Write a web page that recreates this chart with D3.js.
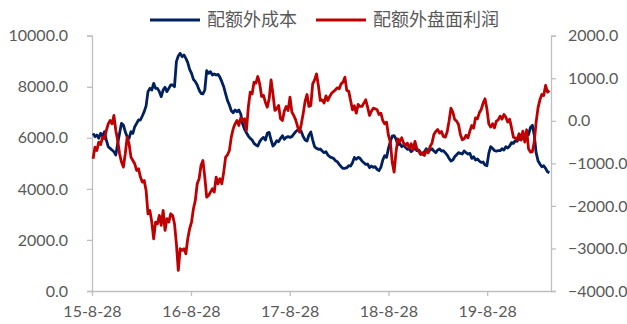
<!DOCTYPE html>
<html>
<head>
<meta charset="utf-8">
<script src="https://cdn.jsdelivr.net/npm/d3@7"></script>
<style>
  html, body { margin: 0; padding: 0; background: #fff; }
  svg { display: block; }
  text { font-family: Lato, "Noto Sans CJK SC", sans-serif; fill: #595959; }
</style>
</head>
<body>
<svg id="chart" width="627" height="324"></svg>
<script>
// ---------------- data ----------------
const seriesNames = ["配额外成本", "配额外盘面利润"];
// weekly readings, first one on firstDate
const firstDate = "2015-09-01";
const stepDays = 7;
// 配额外成本 (left axis)
const costValues = [
  6175, 6045, 6110, 5979, 6175, 6070, 6240, 5914, 5653, 5587,
  5522, 5457, 5326, 5783, 6175, 6567, 6502, 6240, 6045, 5979,
  6240, 6175, 6436, 6567, 6698, 6698, 6855, 7024, 7250, 7808,
  7938, 7873, 8134, 7938, 7938, 7808, 7612, 7873, 7978, 7808,
  7938, 8069, 8069, 8004, 8983, 9205, 9310, 9179, 9244,
  9114, 8944, 8683, 8526, 8291, 8200, 8069, 7873, 7743, 7717,
  7873, 8631, 8526, 8591, 8461, 8500, 8461, 8487, 8369, 8200,
  8004, 7717, 7455, 7285, 7063, 6985, 7089, 7024, 7089, 6933,
  6541, 6332, 6201, 6070, 5979, 5914, 5783, 5718, 5679, 5849,
  5953, 6018, 5914, 6175, 6214, 5914, 5679, 5757, 5888, 5849,
  5979, 6083, 5940, 6018, 6045, 6018, 6045, 6149, 6240, 6306,
  6332, 6240, 6045, 5914, 5875, 6110, 6227, 5914, 5653, 5587,
  5548, 5561, 5483, 5418, 5457, 5326, 5261, 5222, 5196, 5104,
  5065, 4961, 4869, 4804, 4804, 4830, 4908, 4895, 5026, 5235,
  5157, 5235, 5196, 5091, 5026, 4961, 4974, 4830, 4895,
  4843, 4869, 4765, 4713, 4843, 5130, 5300, 5235, 5587, 5849,
  6070, 6083, 5953, 5718, 5783, 5653, 5705, 5627, 5548, 5574,
  5457, 5522, 5627, 5496, 5522, 5418, 5352, 5457, 5574, 5457,
  5522, 5574, 5483, 5418, 5522, 5561, 5483, 5496, 5418, 5326,
  5196, 5091, 5130, 5261, 5339, 5418, 5392, 5365, 5483,
  5418, 5365, 5392, 5196, 5261, 5130, 5170, 5091, 5039, 5052,
  4935, 4908, 5392, 5653, 5587, 5496, 5483, 5496, 5496, 5574,
  5522, 5653, 5600, 5679, 5809, 5783, 5888, 5862, 5979, 5914,
  6045, 6110, 6201, 6123, 6410, 6489, 6110, 5418, 5104, 4974,
  4869, 4908, 4804, 4673, 4634
];
// 配额外盘面利润 (right axis)
const profitValues = [
  -893, -619, -697, -501, -560, -384, -423, -227, -71, 7,
  -71, 125, -227, -462, -775, -971, -1088, -775, -384, -540,
  -854, -932, -1010, -1167, -1128, -1323, -1441, -1402, -1637, -2185,
  -2106, -2380, -2772, -2380, -2420, -2224, -2459, -2106, -2576, -2302,
  -2380, -2185, -2224, -2420, -2889, -3516, -3007, -3046, -3007,
  -3124, -2772, -2537, -2380, -2067, -1871, -1480, -1362, -1049, -932,
  -1323, -1793, -1754, -1676, -1597, -1676, -1323, -1480, -1362, -1480,
  -1206, -854, -799, -697, -384, -188, -71, 7, -110, 70,
  7, 47, -227, 321, 673, 634, 908, 885, 1041, 869,
  572, 595, 438, 321, 517, 963, 634, 243, 282, 360,
  47, 7, 227, 337, 243, 556, 204, 125, 23, -133,
  -266, -71, 180, 462, 618, 337, 360, 869, 963, 1104,
  830, 478, 493, 415, 587, 478, 572, 650, 689, 728,
  775, 752, 869, 908, 1026, 712, 697, 478, 258, 352,
  180, 384, 337, 337, 415, 493, 321, 125, 227,
  297, 282, 258, 149, 180, 7, -71, -31, -345, -501,
  -971, -1206, -736, -423, -485, -400, -525, -580, -525, -642,
  -540, -681, -485, -658, -720, -791, -752, -814, -697, -752,
  -603, -525, -321, -250, -204, -290, -250, -368, -384, -266,
  -8, 297, 204, 31, -8, -86, -321, -446, -423,
  -337, -400, -243, -110, -172, 70, 47, 188, 266, 415,
  517, 282, -71, -149, -71, -164, -8, 23, 110, 39,
  149, 86, -31, 39, -164, -384, -400, -446, -305, -446,
  -243, -501, -211, -658, -736, -728, -501, -31, 305, 493,
  618, 595, 830, 673, 712
];
const xTickDates = ["2015-08-28", "2016-08-28", "2017-08-28", "2018-08-28", "2019-08-28"];
const xTickLabels = ["15-8-28", "16-8-28", "17-8-28", "18-8-28", "19-8-28"];
const xDomain = ["2015-08-28", "2020-04-20"];
const leftTicks = [0, 2000, 4000, 6000, 8000, 10000];
const rightTicks = [-4000, -3000, -2000, -1000, 0, 1000, 2000];
const colors = ["#002060", "#C00000"];

// ---------------- build ----------------
const parse = d3.timeParse("%Y-%m-%d");
const start = parse(firstDate);
const dateAt = i => d3.timeDay.offset(start, i * stepDays);
const costData = costValues.map((v, i) => ({ date: dateAt(i), value: v }));
const profitData = profitValues.map((v, i) => ({ date: dateAt(i), value: v }));

const svg = d3.select("#chart");
const plot = { left: 92, right: 551, top: 35.7, bottom: 291 };

const x = d3.scaleTime().domain(xDomain.map(parse)).range([plot.left, plot.right]);
const yL = d3.scaleLinear().domain([0, 10000]).range([plot.bottom, plot.top]);
const yR = d3.scaleLinear().domain([-4000, 2000]).range([plot.bottom, plot.top]);

const fmt = d3.format(".1f");
const axisColor = "#bfbfbf";

function styleAxis(g) {
  g.selectAll(".domain").attr("stroke", axisColor).attr("stroke-width", 1.3);
  g.selectAll(".tick line").attr("stroke", axisColor).attr("stroke-width", 1.3);
  g.selectAll(".tick text").attr("fill", "#595959").style("font-size", "16px")
    .style("font-family", "Lato, sans-serif");
}

svg.append("g").attr("transform", `translate(${plot.left},0)`)
  .call(d3.axisLeft(yL).tickValues(leftTicks).tickFormat(fmt).tickSize(5).tickSizeOuter(5).tickPadding(19))
  .call(styleAxis);

svg.append("g").attr("transform", `translate(${plot.right},0)`)
  .call(d3.axisRight(yR).tickValues(rightTicks).tickFormat(fmt).tickSize(5).tickSizeOuter(5).tickPadding(12))
  .call(styleAxis);

svg.append("g").attr("transform", `translate(0,${plot.bottom})`)
  .call(d3.axisBottom(x).tickValues(xTickDates.map(parse))
    .tickFormat((d, i) => xTickLabels[i]).tickSize(5).tickSizeOuter(0).tickPadding(10))
  .call(styleAxis);

const lineL = d3.line().x(d => x(d.date)).y(d => yL(d.value));
const lineR = d3.line().x(d => x(d.date)).y(d => yR(d.value));

svg.append("path").datum(costData).attr("d", lineL)
  .attr("fill", "none").attr("stroke", colors[0]).attr("stroke-width", 2.8).attr("stroke-linejoin", "round");
svg.append("path").datum(profitData).attr("d", lineR)
  .attr("fill", "none").attr("stroke", colors[1]).attr("stroke-width", 2.8).attr("stroke-linejoin", "round");

// legend
const legend = [
  { name: seriesNames[0], color: colors[0], x: 150 },
  { name: seriesNames[1], color: colors[1], x: 316 }
];
const lg = svg.append("g");
legend.forEach(l => {
  lg.append("line").attr("x1", l.x).attr("x2", l.x + 50).attr("y1", 20).attr("y2", 20)
    .attr("stroke", l.color).attr("stroke-width", 2.8);
  lg.append("text").attr("x", l.x + 57).attr("y", 20).attr("dy", "0.35em")
    .style("font-size", "18px").style("font-family", "'Noto Sans CJK SC', sans-serif")
    .text(l.name);
});
</script>
</body>
</html>
